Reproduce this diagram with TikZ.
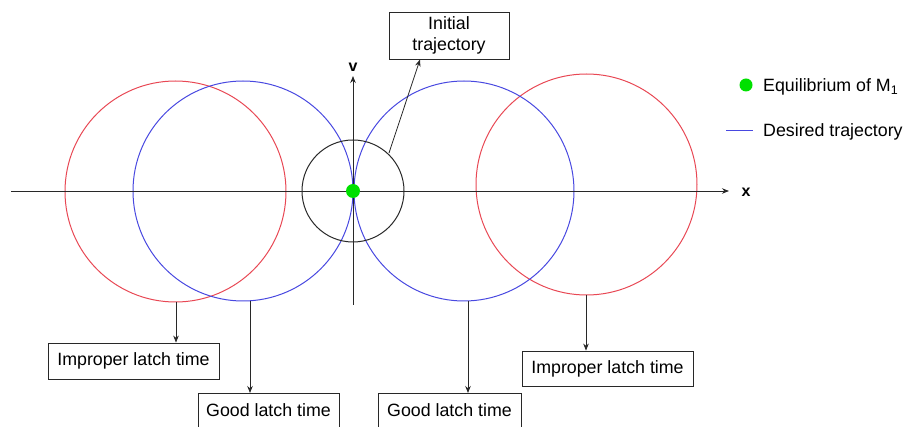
\documentclass[tikz,border=0pt]{standalone}
\usepackage{fontspec}
\setmainfont{Liberation Sans}
\usetikzlibrary{arrows.meta}
\definecolor{myred}{RGB}{232,72,84}
\definecolor{myblue}{RGB}{72,72,224}
\definecolor{mygreen}{RGB}{0,224,0}
\definecolor{ink}{RGB}{40,40,40}
\tikzset{
  lbl/.style={draw=ink,line width=0.8pt,fill=white,inner sep=0pt,align=center,font=\fontsize{17.8}{20.5}\selectfont},
  conn/.style={draw=ink,line width=0.8pt,-{Stealth[length=7pt,width=5.5pt]}},
  redc/.style={draw=myred,line width=1pt},
  bluec/.style={draw=myblue,line width=1pt},
  axislbl/.style={font=\fontsize{16}{18}\selectfont\bfseries,inner sep=0pt}
}
\begin{document}
\begin{tikzpicture}[x=1pt,y=-1pt]
\useasboundingbox (0,0) rectangle (906,427);
\clip (0,0) rectangle (906,427);
% circles
\draw[redc] (175.5,191.5) circle[radius=110.5pt];
\draw[redc] (586.5,184.5) circle[radius=110.5pt];
\draw[bluec] (243,191) circle[radius=110pt];
\draw[bluec] (464,191) circle[radius=110pt];
\draw[draw=ink,line width=1pt] (353,191) circle[radius=51pt];
% axes
\coordinate (xl) at (11,191);
\coordinate (xr) at (729,191);
\coordinate (vb) at (353,305);
\coordinate (vt) at (353,76);
\draw[conn] (xl) -- (xr);
\draw[conn] (vb) -- (vt);
\node[axislbl] (xlab) at (746,192) {x};
\node[axislbl] (vlab) at (353,67) {v};
% equilibrium
\node[circle,fill=mygreen,minimum size=14pt,inner sep=0pt] (eq) at (353,191) {};
% boxes
\node[lbl,minimum width=120pt,minimum height=47pt] (init) at (449,35.5) {Initial\\trajectory};
\node[lbl,minimum width=171pt,minimum height=36pt] (imp1) at (133.5,361) {Improper latch time};
\node[lbl,minimum width=171pt,minimum height=35pt] (imp2) at (607.5,368.5) {Improper latch time};
\node[lbl,minimum width=141pt,minimum height=34pt,anchor=north] (good1) at (268.5,393) {Good latch time};
\node[lbl,minimum width=143pt,minimum height=34pt,anchor=north] (good2) at (449.5,393) {Good latch time};
% connectors
\coordinate (c0) at (389,153);
\draw[conn] (c0) -- (420,59.5);
\coordinate (r1) at (176,302);
\coordinate (b1) at (250,301);
\coordinate (b2) at (468,301);
\coordinate (r2) at (586,295);
\draw[conn] (r1) -- (imp1.north -| r1);
\draw[conn] (b1) -- (good1.north -| b1);
\draw[conn] (b2) -- (good2.north -| b2);
\draw[conn] (r2) -- (imp2.north -| r2);
% legend
\node[circle,fill=mygreen,minimum size=13pt,inner sep=0pt] (legdot) at (746,85) {};
\node[anchor=west,inner sep=0pt,font=\fontsize{17.8}{20.5}\selectfont] (legeq) at (763,87) {Equilibrium of M\textsubscript{1}};
\coordinate (ll) at (726,131);
\coordinate (lr) at (753,131);
\draw[myblue,line width=1pt] (ll) -- (lr);
\node[anchor=west,inner sep=0pt,font=\fontsize{17.8}{20.5}\selectfont] (legde) at (763,132) {Desired trajectory};
\end{tikzpicture}
\end{document}
